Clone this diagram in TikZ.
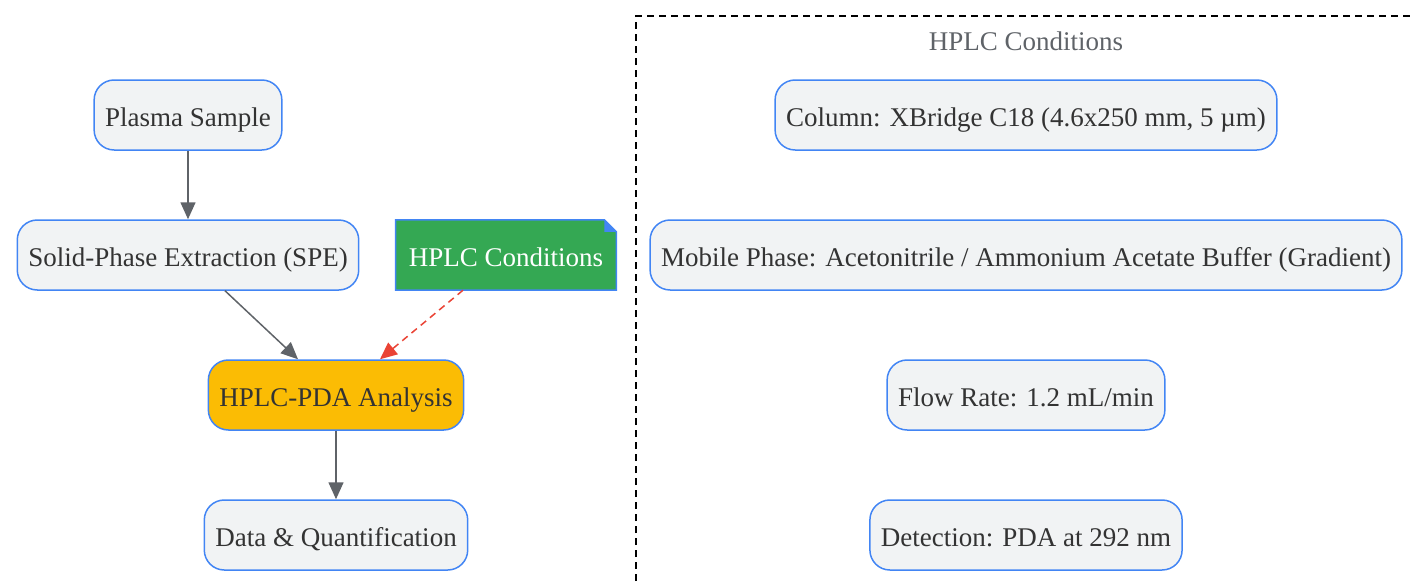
\documentclass[tikz,border=0pt]{standalone}
\usepackage{fontspec}
\setmainfont{Liberation Serif}
\usepackage{tikz}
\usetikzlibrary{positioning,fit,calc,arrows.meta,shapes,backgrounds}
\definecolor{boxfill}{HTML}{F1F3F4}
\definecolor{boxline}{HTML}{4285F4}
\definecolor{arrgray}{HTML}{5F6368}
\definecolor{notegreen}{HTML}{34A853}
\definecolor{linkred}{HTML}{EA4335}
\definecolor{hplcorange}{HTML}{FBBC04}
\definecolor{txtdark}{HTML}{333333}
\tikzset{stepbox/.style={draw=boxline, line width=1.5pt, fill=boxfill, rounded corners=20pt, minimum height=70pt, inner xsep=11pt, text height=22pt, text depth=0pt, text=txtdark, font=\fontsize{27}{32}\selectfont}}
\tikzset{hplcbox/.style={stepbox, fill=hplcorange}}
\tikzset{notebox/.style={minimum height=70pt, inner xsep=13pt, text height=22pt, text depth=0pt, text=white, font=\fontsize{27}{32}\selectfont}}
\tikzset{arr/.style={draw=arrgray, line width=1.5pt, -{Triangle[length=17pt, width=15pt]}}}
\tikzset{arrdash/.style={draw=linkred, line width=1.5pt, dash pattern=on 7pt off 5pt, -{Triangle[length=17pt, width=15pt]}}}

\begin{document}
\begin{tikzpicture}[x=1pt, y=-1pt]
	\useasboundingbox (0,0) rectangle (1410,581);
	% cluster frame, open at right and bottom
	\draw[black, line width=1.3pt, dash pattern=on 7pt off 5pt] (636,581) -- (636,16) -- (1410,16);
	\node[text=arrgray, font=\fontsize{27}{32}\selectfont] (clabel) at (1026,41) {HPLC Conditions};

	\node[stepbox] (plasma) at (188,115) {Plasma Sample};
	\node[stepbox] (spe) at (188,255) {Solid-Phase Extraction (SPE)};
	\node[notebox] (note) at (506,255) {HPLC Conditions};
	\node[hplcbox] (hplc) at (336,395) {HPLC-PDA Analysis};
	\node[stepbox] (data) at (336,535) {Data \& Quantification};
	% note outline with folded corner
	\begin{scope}[on background layer]
		\draw[boxline, line width=1.5pt, fill=notegreen] (note.north west) -- ($(note.north east)+(-12pt,0)$) -- ($(note.north east)+(0,-12pt)$) -- (note.south east) -- (note.south west) -- cycle;
		\fill[boxline] ($(note.north east)+(-12pt,0)$) -- ($(note.north east)+(-12pt,-12pt)$) -- ($(note.north east)+(0,-12pt)$) -- cycle;
	\end{scope}

	\node[stepbox] (column) at (1026,115) {Column: XBridge C18 (4.6x250 mm, 5 µm)};
	\node[stepbox] (mobile) at (1026,255) {Mobile Phase: Acetonitrile / Ammonium Acetate Buffer (Gradient)};
	\node[stepbox] (flow) at (1026,395) {Flow Rate: 1.2 mL/min};
	\node[stepbox] (detect) at (1026,535) {Detection: PDA at 292 nm};

	\draw[arr] (plasma) -- (spe);
	\draw[arr] (spe.south -| 225,0) -- (hplc.north -| 298,0);
	\draw[arrdash] (note.south -| 463,0) -- (hplc.north -| 380,0);
	\draw[arr] (hplc) -- (data);
\end{tikzpicture}
\end{document}
